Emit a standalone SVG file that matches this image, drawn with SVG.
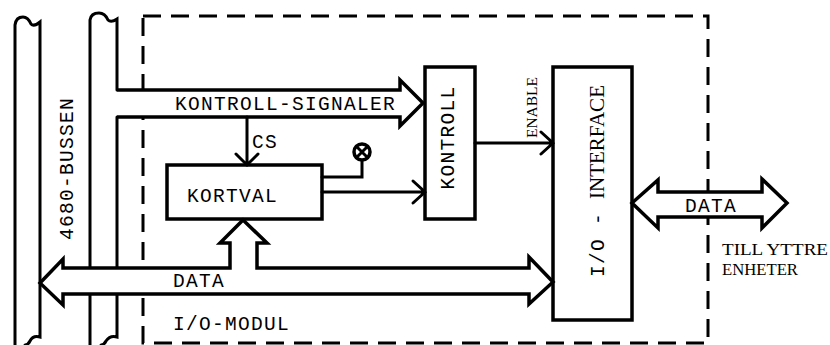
<svg xmlns="http://www.w3.org/2000/svg" width="830" height="345" viewBox="0 0 830 345">
<style>
.ln{fill:none;stroke:#000;stroke-width:3;stroke-linejoin:miter;stroke-linecap:round}
.box{fill:#fff;stroke:#000;stroke-width:3.5}
.arw{fill:#fff;stroke:#000;stroke-width:3.5;stroke-linejoin:miter}
.dash{fill:none;stroke:#000;stroke-width:3;stroke-dasharray:18 10}
.mono{font-family:"Liberation Mono","DejaVu Sans Mono",monospace;font-size:19.5px;letter-spacing:1.3px;fill:#000}
.serif{font-family:"Liberation Serif","DejaVu Serif",serif;fill:#000}
</style>
<rect width="830" height="345" fill="#fff"/>
<g id="module-border">
<rect class="dash" x="143" y="16" width="565" height="327"/>
</g>
<g id="bus-4680">
<path class="ln" d="M15,345 V25 Q16,17 23,17 Q28,17 31,24 Q34,27 40,22 V337 Q33,335 30,341 Q28,345 25,345"/>
<path class="ln" d="M90,345 V20 Q91,13 99,13 Q105,13 108,20 Q111,23 117,19 V90"/>
<path class="ln" d="M117,117 V337 Q110,335 106,341 Q104,345 101,345"/>
<text class="mono" transform="rotate(-90 73 168.5)" x="73" y="168.5" text-anchor="middle">4680-BUSSEN</text>
</g>
<g id="kortval">
<rect class="box" x="167" y="165" width="155" height="54"/>
<text class="mono" x="187" y="202">KORTVAL</text>
</g>
<g id="kontroll">
<rect class="box" x="425" y="67" width="50" height="152"/>
<text class="mono" transform="rotate(-90 454 137.5)" x="454" y="137.5" text-anchor="middle">KONTROLL</text>
</g>
<g id="io-interface">
<rect class="box" x="553" y="67" width="79" height="253"/>
<text transform="rotate(-90 604 277)" x="604" y="277"><tspan class="mono">I/O - </tspan><tspan class="serif" font-size="21" letter-spacing="0">INTERFACE</tspan></text>
</g>
<g id="lamp">
<circle cx="362" cy="152" r="8" fill="#fff" stroke="#000" stroke-width="3.5"/>
<path class="ln" d="M358,148 L366,156 M366,148 L358,156" stroke-width="3"/>
</g>
<g id="connectors">
<path class="arw" d="M117,90 H400 V80 L423,103 L400,126 V117 H117"/>
<path class="ln" d="M247,117 V165 M236,154 L247,165 L258,154"/>
<path class="ln" d="M322,177 H362 V161"/>
<path class="ln" d="M322,192 H425 M413,181 L425,192 L413,203"/>
<path class="ln" d="M475,143 H553 M541,132 L553,143 L541,154"/>
<path class="arw" d="M40,283 L63,259 V268 H230 V243 H220 L243,220 L267,243 H257 V268 H529 V257 L553,282 L529,304 V294 H63 V305 Z"/>
<path class="arw" d="M632,203 L658,180 V192 H762 V179 L787,203 L762,228 V217 H658 V228 Z"/>
<text class="mono" x="175" y="110">KONTROLL-SIGNALER</text>
<text class="mono" x="252" y="148">CS</text>
<text class="serif" font-size="15" transform="rotate(-90 537 107.5)" x="537" y="107.5" text-anchor="middle" textLength="61" lengthAdjust="spacingAndGlyphs">ENABLE</text>
<text class="mono" x="173" y="287">DATA</text>
<text class="mono" x="685" y="212">DATA</text>
</g>
<g id="labels">
<text class="mono" x="173" y="330">I/O-MODUL</text>
<text class="serif" font-size="17" x="722" y="255" textLength="106" lengthAdjust="spacingAndGlyphs">TILL YTTRE</text>
<text class="serif" font-size="17" x="722" y="275" textLength="76" lengthAdjust="spacingAndGlyphs">ENHETER</text>
</g>
</svg>
